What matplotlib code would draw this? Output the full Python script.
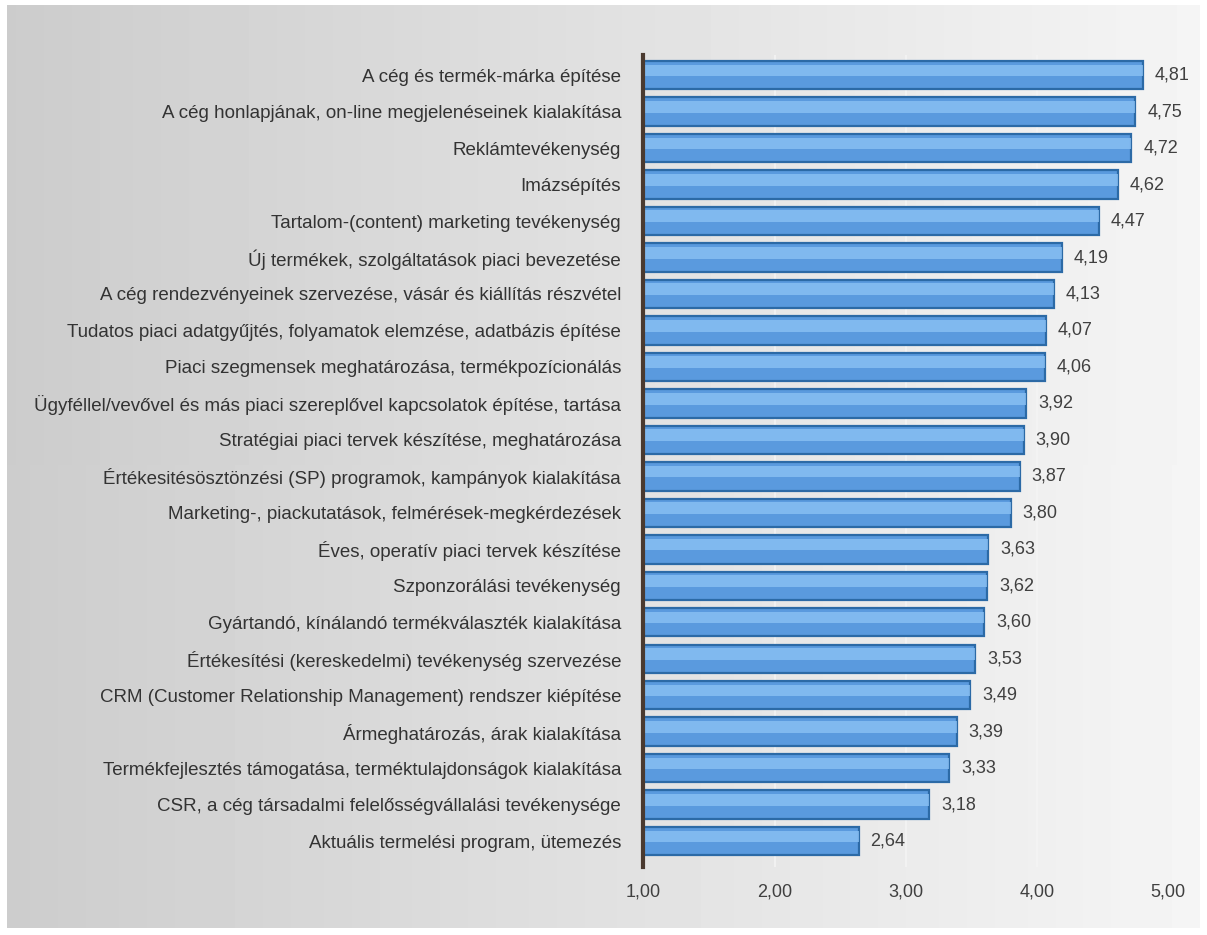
import numpy as np
import matplotlib
matplotlib.use("Agg")
import matplotlib.pyplot as plt

plt.rcParams['font.family'] = ['Liberation Sans', 'DejaVu Sans']

labels = [
    "A cég és termék-márka építése",
    "A cég honlapjának, on-line megjelenéseinek kialakítása",
    "Reklámtevékenység",
    "Imázsépítés",
    "Tartalom-(content) marketing tevékenység",
    "Új termékek, szolgáltatások piaci bevezetése",
    "A cég rendezvényeinek szervezése, vásár és kiállítás részvétel",
    "Tudatos piaci adatgyűjtés, folyamatok elemzése, adatbázis építése",
    "Piaci szegmensek meghatározása, termékpozícionálás",
    "Ügyféllel/vevővel és más piaci szereplővel kapcsolatok építése, tartása",
    "Stratégiai piaci tervek készítése, meghatározása",
    "Értékesitésösztönzési (SP) programok, kampányok kialakítása",
    "Marketing-, piackutatások, felmérések-megkérdezések",
    "Éves, operatív piaci tervek készítése",
    "Szponzorálási tevékenység",
    "Gyártandó, kínálandó termékválaszték kialakítása",
    "Értékesítési (kereskedelmi) tevékenység szervezése",
    "CRM (Customer Relationship Management) rendszer kiépítése",
    "Ármeghatározás, árak kialakítása",
    "Termékfejlesztés támogatása, terméktulajdonságok kialakítása",
    "CSR, a cég társadalmi felelősségvállalási tevékenysége",
    "Aktuális termelési program, ütemezés",
]
values = [4.81, 4.75, 4.72, 4.62, 4.47, 4.19, 4.13, 4.07, 4.06, 3.92, 3.90,
          3.87, 3.80, 3.63, 3.62, 3.60, 3.53, 3.49, 3.39, 3.33, 3.18, 2.64]
xticks = [1, 2, 3, 4, 5]

fig = plt.figure(figsize=(12.07, 9.35), dpi=100)

# gray gradient panel behind the chart
bg = fig.add_axes([0.006, 0.007, 0.988, 0.988], zorder=0)
grad = np.linspace(0.80, 0.96, 256).reshape(1, -1)
grad = np.vstack([grad, grad * 0.99 + 0.01])
bg.imshow(grad, aspect='auto', cmap='gray', vmin=0, vmax=1, extent=[0, 1, 0, 1])
bg.axis('off')

ax = fig.add_axes([0.533, 0.0727, 0.437, 0.8684], zorder=1)
ax.patch.set_alpha(0)

y = np.arange(len(labels))
base = 1.0
widths = [v - base for v in values]
ax.barh(y, widths, left=base, height=0.78, color='#5a9ade', edgecolor='#2c6aa6',
        linewidth=1.6, zorder=3)
# lighter highlight strip for the glossy look
ax.barh(y - 0.13, widths, left=base, height=0.32, color='#8ec4f6', linewidth=0,
        zorder=4, alpha=0.75)

for yi, v in zip(y, values):
    ax.text(v + 0.09, yi, f"{v:.2f}".replace('.', ','), va='center', ha='left',
            fontsize=13, color='#404040', zorder=5)

ax.set_xlim(1, 5.02)
ax.set_ylim(len(labels) - 0.29, -0.55)
ax.set_xticks(xticks)
ax.set_xticklabels([f"{t:.2f}".replace('.', ',') for t in xticks], fontsize=13,
                   color='#404040')
ax.set_yticks(y)
ax.set_yticklabels(labels, fontsize=13.5, color='#333333')
ax.tick_params(axis='both', length=0)
ax.tick_params(axis='y', pad=16)
ax.tick_params(axis='x', pad=12)
ax.grid(axis='x', color='#f4f4f4', linewidth=1.2, zorder=1)
for s in ['top', 'right', 'bottom']:
    ax.spines[s].set_visible(False)
ax.spines['left'].set_color('#4a3a30')
ax.spines['left'].set_linewidth(3)
ax.spines['left'].set_zorder(6)

fig.savefig('out.png', dpi=100, facecolor='white')
